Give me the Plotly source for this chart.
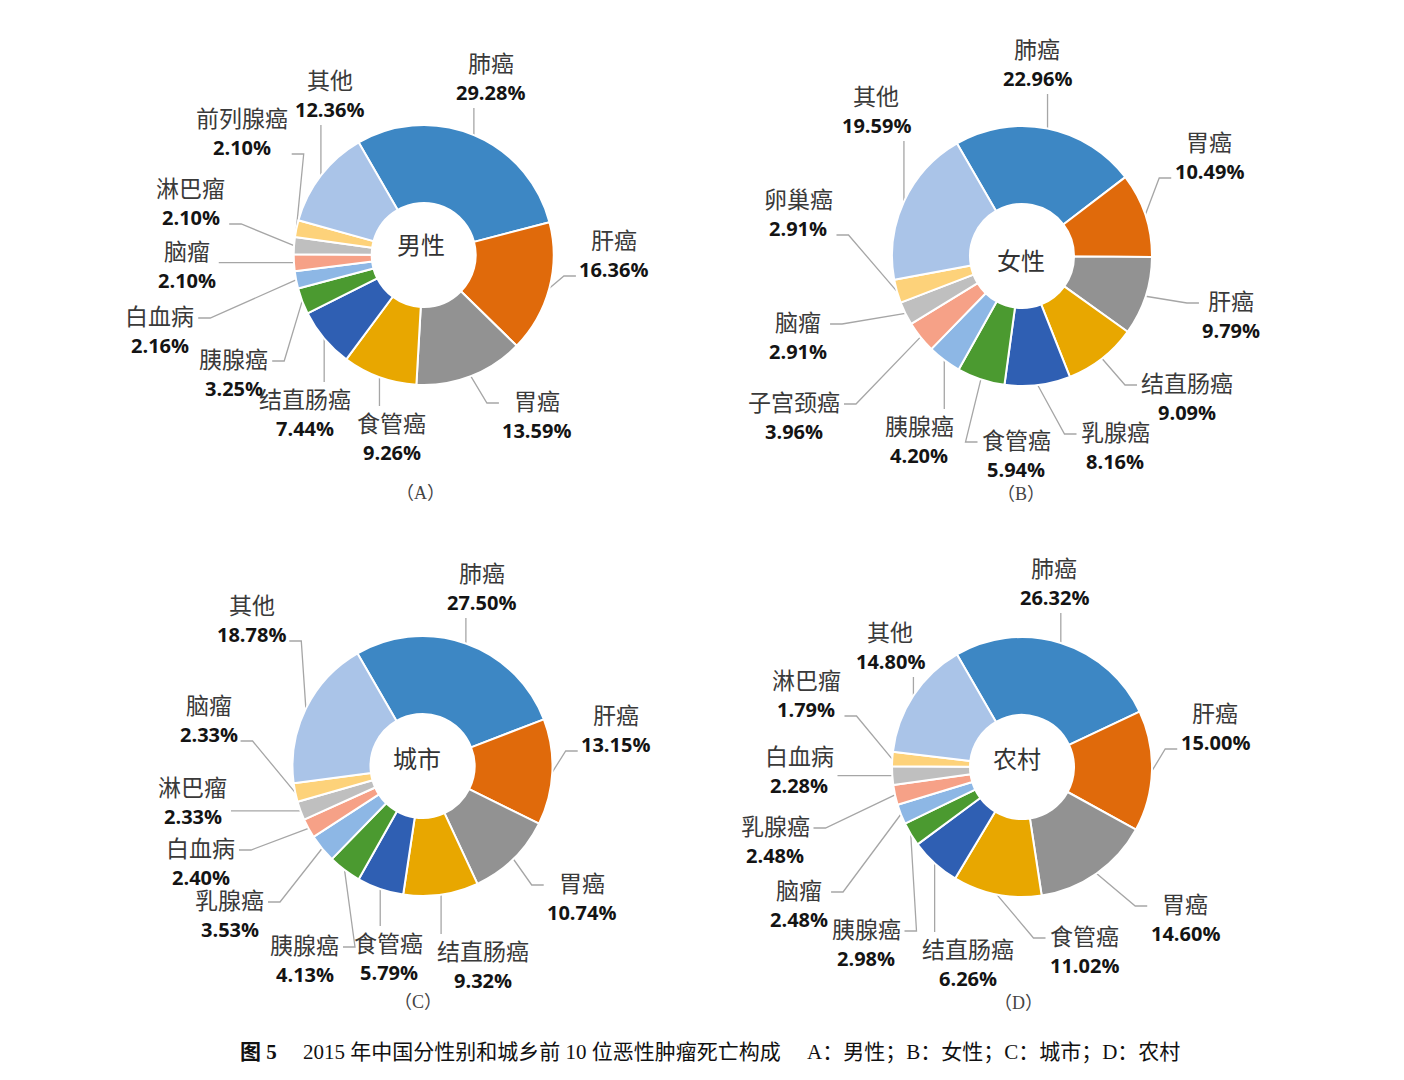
import math
import plotly.graph_objects as go

# 2015年中国前10位恶性肿瘤死亡构成（%）
cats_a = ['肺癌', '肝癌', '胃癌', '食管癌', '结直肠癌', '胰腺癌', '白血病', '脑瘤', '淋巴瘤', '前列腺癌', '其他']
vals_a = [29.28, 16.36, 13.59, 9.26, 7.44, 3.25, 2.16, 2.10, 2.10, 2.10, 12.36]

cats_b = ['肺癌', '胃癌', '肝癌', '结直肠癌', '乳腺癌', '食管癌', '胰腺癌', '子宫颈癌', '脑瘤', '卵巢癌', '其他']
vals_b = [22.96, 10.49, 9.79, 9.09, 8.16, 5.94, 4.20, 3.96, 2.91, 2.91, 19.59]

cats_c = ['肺癌', '肝癌', '胃癌', '结直肠癌', '食管癌', '胰腺癌', '乳腺癌', '白血病', '淋巴瘤', '脑瘤', '其他']
vals_c = [27.50, 13.15, 10.74, 9.32, 5.79, 4.13, 3.53, 2.40, 2.33, 2.33, 18.78]

cats_d = ['肺癌', '肝癌', '胃癌', '食管癌', '结直肠癌', '胰腺癌', '脑瘤', '乳腺癌', '白血病', '淋巴瘤', '其他']
vals_d = [26.32, 15.00, 14.60, 11.02, 6.26, 2.98, 2.48, 2.48, 2.28, 1.79, 14.80]

center_names = ['男性', '女性', '城市', '农村']
panel_names = ['（A）', '（B）', '（C）', '（D）']
caption = ('<b>图 5</b>\u2003 2015 年中国分性别和城乡前 10 位恶性肿瘤死亡构成\u2003 '
           'A：男性；B：女性；C：城市；D：农村')

# ---- 版式 ----
W, H = 1404, 1080
OFF = 8          # 页面 body 的默认边距，坐标轴整体平移抵消
R = 130          # 外半径（像素）
HOLE = 0.4
ROT = -30        # 第一扇区起始角
colors = ['#3d87c4', '#e06a0b', '#929292', '#e8a700', '#2f5fb3', '#4b9a30',
          '#8db7e5', '#f6a187', '#bfbfbf', '#fdd27a', '#aac4e8']
LINE_COL = '#a6a6a6'
CJK = 'Noto Sans CJK SC'
NUM = 'Open Sans'
FS = 23
FS_PCT = 20

# 每个图：圆心、中心文字偏移、小标题位置、各标签相对圆心的偏移
charts = [
    dict(cats=cats_a, vals=vals_a, cx=423.7, cy=255, ctr=(-3, -12), panel=(420, 493),
         offs=[(67, -178), (190, -1), (113, 160), (-32, 182), (-119, 158), (-190, 118),
               (-264, 75), (-237, 10), (-233, -53), (-182, -123), (-94, -161)]),
    dict(cats=cats_b, vals=vals_b, cx=1022, cy=256, ctr=(-1, 3), panel=(1021, 494),
         offs=[(15, -193), (187, -100), (209, 59), (165, 141), (93, 190), (-6, 198),
               (-103, 184), (-228, 160), (-224, 80), (-224, -43), (-146, -146)]),
    dict(cats=cats_c, vals=vals_c, cx=422.5, cy=766, ctr=(-6, -9), panel=(418, 1002),
         offs=[(59, -179), (193, -37), (159, 131), (60, 199), (-34, 191), (-118, 193),
               (-193, 148), (-222, 96), (-230, 35), (-214, -47), (-171, -147)]),
    dict(cats=cats_d, vals=vals_d, cx=1022, cy=767, ctr=(-5, -10), panel=(1018, 1003),
         offs=[(32, -185), (193, -40), (163, 151), (62, 183), (-54, 196), (-156, 176),
               (-223, 137), (-247, 73), (-223, 3), (-216, -73), (-132, -121)]),
]


def text_width(s, size):
    w = 0
    for ch in s:
        if ord(ch) > 0x2e80:
            w += 1.0
        elif ch.isdigit():
            w += 0.572
        elif ch == '.':
            w += 0.27
        elif ch == '%':
            w += 0.82
        else:
            w += 0.5
    return w * size


fig = go.Figure()
annotations = []


def note(x, y, text, family, size, color, weight='normal'):
    annotations.append(dict(
        x=x, y=y, xref='x', yref='y', showarrow=False, text=text,
        font=dict(family=family, size=size, color=color, weight=weight),
        xanchor='center', yanchor='middle'))


for ch, name, panel in zip(charts, center_names, panel_names):
    cx, cy = ch['cx'], ch['cy']
    fig.add_trace(go.Pie(
        labels=ch['cats'], values=ch['vals'], sort=False, direction='clockwise',
        rotation=ROT, hole=HOLE, textinfo='none', hoverinfo='label+percent',
        marker=dict(colors=colors, line=dict(color='white', width=2)),
        domain=dict(x=[(cx - OFF - R) / W, (cx - OFF + R) / W],
                    y=[1 - (cy - OFF + R) / H, 1 - (cy - OFF - R) / H]),
        showlegend=False,
    ))

    total = sum(ch['vals'])
    cum = 0
    xs_all, ys_all = [], []
    for cat, v, (dx, dy) in zip(ch['cats'], ch['vals'], ch['offs']):
        mid = math.radians(ROT + (cum + v / 2) / total * 360)
        cum += v
        ex, ey = cx + R * math.sin(mid), cy - R * math.cos(mid)
        lx, ly = cx + dx, cy + dy
        pct = f'{v:.2f}%'
        note(lx, ly - 15, cat, CJK, FS, '#3a3a3a')
        note(lx, ly + 15, pct, NUM, FS_PCT, '#141414', 700)
        hw = max(text_width(cat, FS), text_width(pct, FS_PCT)) / 2
        hh = 29
        # 引导线
        if abs(ex - lx) <= hw - 2:
            ty = ly + hh + 2 if ey > ly else ly - hh - 2
            xs, ys = [ex, ex], [ey, ty]
        else:
            side = -1 if ex < lx else 1
            ax = lx + side * (hw + 4)
            ay = min(max(ey, ly - 12), ly + 22)
            sx = ax + side * 12
            xs, ys = [ex, sx, ax], [ey, ay, ay]
        xs_all += xs + [None]
        ys_all += ys + [None]
    fig.add_trace(go.Scatter(
        x=xs_all, y=ys_all, mode='lines', hoverinfo='skip', showlegend=False,
        line=dict(color=LINE_COL, width=1.3), xaxis='x', yaxis='y'))

    note(cx + ch['ctr'][0], cy + ch['ctr'][1], name, CJK, 24, '#333333')
    note(ch['panel'][0], ch['panel'][1], panel, 'Liberation Serif, ' + CJK, 18, '#444444')

note(710, 1052, caption, 'Liberation Serif, ' + CJK, 21, '#111111')

fig.update_layout(
    width=W, height=H,
    margin=dict(l=0, r=0, t=0, b=0),
    paper_bgcolor='white', plot_bgcolor='rgba(0,0,0,0)',
    xaxis=dict(range=[OFF, W + OFF], visible=False, domain=[0, 1], fixedrange=True),
    yaxis=dict(range=[H + OFF, OFF], visible=False, domain=[0, 1], fixedrange=True),
    annotations=annotations,
    showlegend=False,
)

fig.write_html('out.html')
